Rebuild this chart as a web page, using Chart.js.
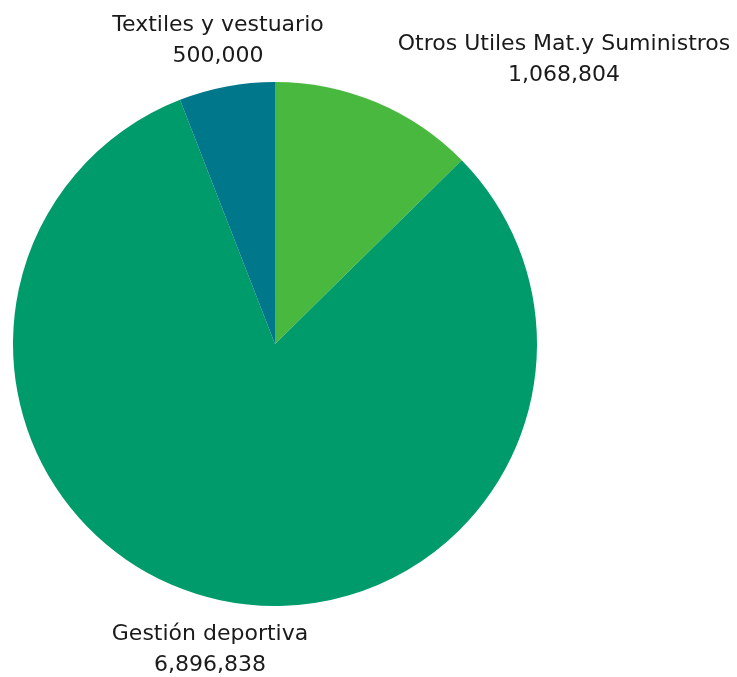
<!DOCTYPE html>
<html>
<head>
<meta charset="utf-8">
<script src="https://cdn.jsdelivr.net/npm/chart.js@4.4.0/dist/chart.umd.min.js"></script>
<style>
  html, body { margin: 0; padding: 0; background: #fff; }
  #wrap { width: 737px; height: 677px; position: relative; }
</style>
</head>
<body>
<div id="wrap"><canvas id="pieChart"></canvas></div>
<script>
const categories = ['Otros Utiles Mat.y Suministros', 'Gestión deportiva', 'Textiles y vestuario'];
const values = [1068804, 6896838, 500000];
const sliceColors = ['#48b83e', '#009b6b', '#00778a'];

// where each label sits, relative to pie centre
const labelOffsets = [[289, -284], [-65, 306], [-57, -303]];

const labelPlugin = {
    id: 'pieLabels',
    afterDraw(chart) {
        const c = chart.ctx;
        const arcs = chart.getDatasetMeta(0).data;
        c.save();
        c.font = '22px "DejaVu Sans", sans-serif';
        c.fillStyle = '#1a1a1a';
        c.textAlign = 'center';
        c.textBaseline = 'middle';
        arcs.forEach((arc, i) => {
            const x = arc.x + labelOffsets[i][0];
            const y = arc.y + labelOffsets[i][1];
            c.fillText(chart.data.labels[i], x, y - 16);
            c.fillText(values[i].toLocaleString('en-US'), x, y + 15);
        });
        c.restore();
    }
};

const ctx = document.getElementById('pieChart').getContext('2d');
const pieChart = new Chart(ctx, {
    type: 'pie',
    data: {
        labels: categories,
        datasets: [{
            data: values,
            backgroundColor: sliceColors,
            borderWidth: 0
        }]
    },
    options: {
        responsive: true,
        maintainAspectRatio: false,
        animation: false,
        layout: { padding: { left: 13, top: 82, right: 200, bottom: 71 } },
        plugins: {
            legend: { display: false },
            tooltip: { enabled: false }
        }
    },
    plugins: [labelPlugin]
});
</script>
</body>
</html>
